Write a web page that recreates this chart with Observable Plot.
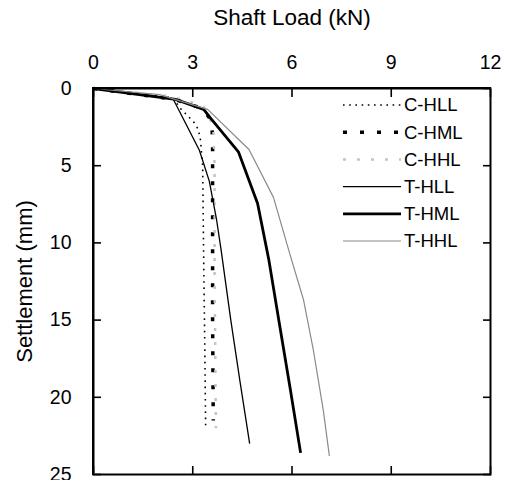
<!DOCTYPE html>
<html>
<head>
<meta charset="utf-8">
<script src="https://cdn.jsdelivr.net/npm/d3@7"></script>
<script src="https://cdn.jsdelivr.net/npm/@observablehq/plot@0.6"></script>
<style>
  html, body { margin: 0; padding: 0; background: #fff; }
  #chart svg { display: block; }
</style>
</head>
<body>
<div id="chart"></div>
<script>
// Tick labels
const xTicks = [0, 3, 6, 9, 12];
const yTicks = [0, 5, 10, 15, 20, 25];

// Series names
const seriesNames = ["C-HLL", "C-HML", "C-HHL", "T-HLL", "T-HML", "T-HHL"];

// Shaft load (kN) and settlement (mm) per series
const cHLL_load   = [0, 2.4, 2.65, 2.86, 3.02, 3.17, 3.23, 3.3, 3.33, 3.36, 3.39];
const cHLL_settle = [0, 0.6, 1.35, 1.8, 2.14, 2.66, 3.3, 5.0, 11, 16, 22.0];

const cHML_load   = [0, 2.45, 3.3, 3.57, 3.6, 3.6, 3.6, 3.6, 3.62];
const cHML_settle = [0, 0.7, 1.3, 2.1, 3.3, 5, 10, 15, 21.5];

const cHHL_load   = [0, 2.3, 3.3, 3.62, 3.66, 3.66, 3.68, 3.7];
const cHHL_settle = [0, 0.5, 1.1, 2.4, 5, 12, 17, 22];

const tHLL_load   = [0, 2.4, 3.2, 3.5, 3.72, 3.86, 4.15, 4.43, 4.72];
const tHLL_settle = [0, 0.65, 4.0, 6, 8.5, 10.5, 15, 19, 23.0];

const tHML_load   = [0, 2.48, 3.33, 3.55, 4.38, 4.96, 5.3, 5.6, 5.95, 6.26];
const tHML_settle = [0, 0.7, 1.35, 1.95, 4.1, 7.45, 11.1, 15, 19.5, 23.6];

const tHHL_load   = [0, 2.0, 3.45, 4.7, 5.44, 5.96, 6.35, 6.65, 6.95, 7.13];
const tHHL_settle = [0, 0.4, 1.35, 3.95, 7.05, 10.9, 13.7, 17, 20.9, 23.8];

const seriesLoads = [cHLL_load, cHML_load, cHHL_load, tHLL_load, tHML_load, tHHL_load];
const seriesSettles = [cHLL_settle, cHML_settle, cHHL_settle, tHLL_settle, tHML_settle, tHHL_settle];

// Styles
const styles = {
  "C-HLL": {stroke: "#000", strokeWidth: 1.6, strokeDasharray: "1.6,4.6"},
  "C-HML": {stroke: "#000", strokeWidth: 3.5, strokeDasharray: "4,13"},
  "C-HHL": {stroke: "#c4c4c4", strokeWidth: 2.5, strokeDasharray: "3,11"},
  "T-HLL": {stroke: "#000", strokeWidth: 1.3},
  "T-HML": {stroke: "#000", strokeWidth: 2.8},
  "T-HHL": {stroke: "#8a8a8a", strokeWidth: 1.2}
};

const rows = [];
seriesNames.forEach((name, i) => {
  seriesLoads[i].forEach((x, j) => rows.push({series: name, load: x, settle: seriesSettles[i][j]}));
});

const font = "'Liberation Sans', Arial, Helvetica, sans-serif";

const lineMarks = seriesNames.map(name =>
  Plot.line(rows.filter(d => d.series === name), {x: "load", y: "settle", ...styles[name], strokeLinejoin: "round", strokeLinecap: "butt"})
);

const chart = Plot.plot({
  width: 509,
  height: 480,
  marginLeft: 93,
  marginRight: 19,
  marginTop: 88,
  marginBottom: 6,
  style: {fontFamily: font, background: "#fff", color: "#000"},
  x: {domain: [0, 12]},
  y: {domain: [0, 25], reverse: true},
  marks: [
    // tick labels
    Plot.axisX(xTicks, {anchor: "top", tickSize: 0, tickPadding: 20, fontSize: 19.5, label: null}),
    Plot.axisY(yTicks, {anchor: "left", tickSize: 0, tickPadding: 22, fontSize: 19.5, label: null}),
    // axis titles
    Plot.axisX(xTicks, {anchor: "top", tickSize: 0, text: null, fontSize: 22.5, label: "Shaft Load (kN)", labelAnchor: "center", labelArrow: "none", labelOffset: 79}),
    Plot.axisY(yTicks, {anchor: "left", tickSize: 0, text: null, fontSize: 22, label: "Settlement (mm)", labelAnchor: "center", labelArrow: "none", labelOffset: 77}),
    ...lineMarks,
    Plot.frame({stroke: "#000", strokeWidth: 2}),
    // inward ticks
    Plot.axisX(xTicks, {anchor: "top", tickSize: 8, dy: 8, text: null, label: null, strokeWidth: 1.6}),
    Plot.axisX(xTicks, {anchor: "bottom", tickSize: 8, dy: -8, text: null, label: null, strokeWidth: 1.6}),
    Plot.axisY(yTicks, {anchor: "left", tickSize: 8, dx: 8, text: null, label: null, strokeWidth: 1.6}),
    Plot.axisY(yTicks, {anchor: "right", tickSize: 8, dx: -8, text: null, label: null, strokeWidth: 1.6})
  ]
});

document.getElementById("chart").appendChild(chart);

// Reinforce left and top edges as filled bands, placed through the plot's scales
const svg = d3.select(chart);
const sx = chart.scale("x"), sy = chart.scale("y");
const [X0, X1] = d3.extent(sx.range);
const [Y0, Y1] = d3.extent(sy.range);
const edgeG = svg.append("g").attr("fill", "#000").attr("stroke", "none");
edgeG.append("rect").attr("x", X0 - 1).attr("y", Y0 - 1).attr("width", 2).attr("height", Y1 - Y0 + 2);
edgeG.append("rect").attr("x", X0 - 1).attr("y", Y0 - 1).attr("width", X1 - X0 + 2).attr("height", 2);

// Legend inside the plot, upper right
const legend = svg.append("g").attr("font-family", font).attr("font-size", 18.5).attr("text-anchor", "start");
const legendX0 = 343, legendX1 = 401, legendTextX = 404, legendY0 = 105, legendStep = 27.2;
seriesNames.forEach((name, i) => {
  const y = legendY0 + i * legendStep;
  const s = styles[name];
  legend.append("line")
    .attr("x1", legendX0).attr("x2", legendX1).attr("y1", y).attr("y2", y)
    .attr("stroke", s.stroke).attr("stroke-width", s.strokeWidth)
    .attr("stroke-dasharray", s.strokeDasharray || null);
  legend.append("text").attr("x", legendTextX).attr("y", y).attr("dy", "0.35em")
    .attr("fill", "#000").attr("text-anchor", "start").text(name);
});
</script>
</body>
</html>
